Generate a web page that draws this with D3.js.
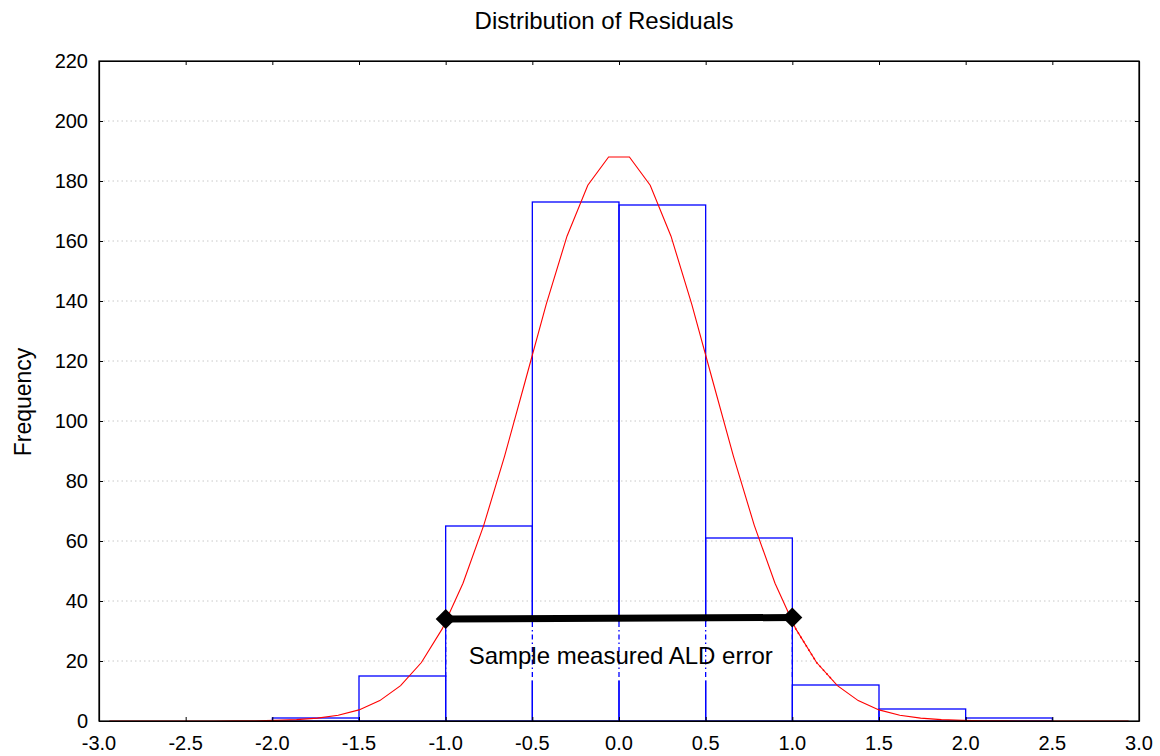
<!DOCTYPE html>
<html>
<head>
<meta charset="utf-8">
<script src="https://cdn.jsdelivr.net/npm/d3@7"></script>
<style>
  body { margin: 0; background: #fff; }
  svg { font-family: "Liberation Sans", Arial, sans-serif; }
</style>
</head>
<body>
<svg id="svg1"></svg>
<script>
var margin = {top: 61, right: 21, bottom: 35, left: 99};
var width = 1160 - margin.left - margin.right;
var height = 756 - margin.top - margin.bottom;

// histogram bins (lower edge) and counts
var binStarts = [-2.0, -1.5, -1.0, -0.5, 0.0, 0.5, 1.0, 1.5, 2.0];
var binCounts = [1, 15, 65, 173, 172, 61, 12, 4, 1];
var binWidth = 0.5;

// fitted normal curve
var curveX = [-2.94, -2.82, -2.70, -2.58, -2.46, -2.34, -2.22, -2.10, -1.98, -1.86, -1.74, -1.62, -1.50,
  -1.38, -1.26, -1.14, -1.02, -0.90, -0.78, -0.66, -0.54, -0.42, -0.30, -0.18, -0.06,
  0.06, 0.18, 0.30, 0.42, 0.54, 0.66, 0.78, 0.90, 1.02, 1.14, 1.26, 1.38, 1.50,
  1.62, 1.74, 1.86, 1.98, 2.10, 2.22, 2.34, 2.46, 2.58, 2.70, 2.82, 2.94];
var curveY = [0, 0, 0, 0, 0, 0.01, 0.03, 0.09, 0.2, 0.45, 0.95, 1.9, 3.7,
  6.8, 11.8, 19.5, 30.7, 45.9, 65.3, 88.3, 113.5, 138.9, 161.6, 178.6, 188,
  188, 178.6, 161.6, 138.9, 113.5, 88.3, 65.3, 45.9, 30.7, 19.5, 11.8, 6.8, 3.7,
  1.9, 0.95, 0.45, 0.2, 0.09, 0.03, 0.01, 0, 0, 0, 0, 0];

// annotation: measured error range
var errX = [-1.0, 1.0];
var errY = [34, 34.5];
var errLabel = "Sample measured ALD error";

var xTicks = [-3.0, -2.5, -2.0, -1.5, -1.0, -0.5, 0.0, 0.5, 1.0, 1.5, 2.0, 2.5, 3.0];
var yTicks = [0, 20, 40, 60, 80, 100, 120, 140, 160, 180, 200, 220];

var root = d3.select('#svg1')
  .attr('width', 1160)
  .attr('height', 756);

root.append('text')
  .attr('x', 604)
  .attr('y', 29)
  .attr('text-anchor', 'middle')
  .style('font-size', '24px')
  .text('Distribution of Residuals');

root.append('text')
  .attr('transform', 'translate(31,402) rotate(-90)')
  .attr('text-anchor', 'middle')
  .style('font-size', '23px')
  .text('Frequency');

var svg = root.append('g')
  .attr('transform', 'translate(' + margin.left + ',' + margin.top + ')');

var x = d3.scaleLinear().domain([-3, 3]).range([0, width]);
var y = d3.scaleLinear().domain([0, 220]).range([height, 0]);

// grid
svg.selectAll('.grid')
  .data(yTicks.filter(function(d) { return d > 0 && d < 220; }))
  .enter().append('line')
  .attr('x1', 0).attr('x2', width)
  .attr('y1', function(d) { return y(d); })
  .attr('y2', function(d) { return y(d); })
  .attr('stroke', '#c8c8c8')
  .attr('stroke-dasharray', '1.5,3');

// histogram
svg.selectAll('.bar')
  .data(binStarts)
  .enter().append('rect')
  .attr('class', 'bar')
  .attr('x', function(d) { return x(d); })
  .attr('y', function(d, i) { return y(binCounts[i]); })
  .attr('width', function(d) { return x(d + binWidth) - x(d); })
  .attr('height', function(d, i) { return height - y(binCounts[i]); })
  .attr('fill', 'none')
  .attr('stroke', '#0000ff')
  .attr('stroke-width', 1.3);

var line = d3.line()
  .x(function(d, i) { return x(curveX[i]); })
  .y(function(d) { return y(d); });

svg.append('path')
  .datum(curveY)
  .attr('d', line)
  .attr('fill', 'none')
  .attr('stroke', '#ff0000')
  .attr('stroke-width', 1.1);

// text box region: lines show through dotted
var boxL = x(-0.99), boxR = x(0.99), boxT = y(33), boxB = y(13.5);
svg.append('rect')
  .attr('x', boxL).attr('y', boxT)
  .attr('width', boxR - boxL).attr('height', boxB - boxT)
  .attr('fill', '#fff');

svg.append('clipPath').attr('id', 'boxclip')
  .append('rect')
  .attr('x', boxL - 6).attr('y', boxT)
  .attr('width', boxR - boxL + 40).attr('height', boxB - boxT);

var inBox = svg.append('g').attr('clip-path', 'url(#boxclip)');
inBox.selectAll('.vdot')
  .data([-1.0, -0.5, 0.0, 0.5, 1.0])
  .enter().append('line')
  .attr('x1', function(d) { return x(d); })
  .attr('x2', function(d) { return x(d); })
  .attr('y1', boxT).attr('y2', boxB)
  .attr('stroke', '#0000ff')
  .attr('stroke-width', 1.3)
  .attr('stroke-dasharray', '5,3,1.5,3');
svg.append('clipPath').attr('id', 'curveclip')
  .append('rect')
  .attr('x', x(0.8)).attr('y', boxT)
  .attr('width', x(1.3) - x(0.8)).attr('height', boxB - boxT);
svg.append('path')
  .datum(curveY)
  .attr('d', line)
  .attr('clip-path', 'url(#curveclip)')
  .attr('fill', 'none')
  .attr('stroke', '#ff0000')
  .attr('stroke-width', 1.6)
  .attr('stroke-dasharray', '1.5,3.5');

svg.append('text')
  .attr('x', x(0.01))
  .attr('y', y(21))
  .attr('text-anchor', 'middle')
  .attr('dominant-baseline', 'middle')
  .style('font-size', '24px')
  .text(errLabel);

// measured error bar with diamonds
svg.append('line')
  .attr('x1', x(errX[0])).attr('x2', x(errX[1]))
  .attr('y1', y(errY[0])).attr('y2', y(errY[1]))
  .attr('stroke', '#000')
  .attr('stroke-width', 7);
svg.selectAll('.diamond')
  .data(errX)
  .enter().append('path')
  .attr('d', 'M0,-10L10,0L0,10L-10,0Z')
  .attr('transform', function(d, i) { return 'translate(' + x(d) + ',' + y(errY[i]) + ')'; })
  .attr('fill', '#000');

// frame and inward ticks
svg.append('rect')
  .attr('width', width).attr('height', height)
  .attr('fill', 'none')
  .attr('stroke', '#000')
  .attr('stroke-width', 1.2);

var fmt = function(d) { return d3.format('.1f')(d).replace('\u2212', '-'); };

svg.append('g')
  .attr('transform', 'translate(0,' + height + ')')
  .call(d3.axisBottom(x).tickValues(xTicks).tickSizeInner(-4).tickSizeOuter(0).tickFormat(''));
svg.append('g')
  .call(d3.axisTop(x).tickValues(xTicks).tickSizeInner(-4).tickSizeOuter(0).tickFormat(''));
svg.append('g')
  .call(d3.axisLeft(y).tickValues(yTicks).tickSizeInner(-4).tickSizeOuter(0).tickFormat(''));
svg.append('g')
  .attr('transform', 'translate(' + width + ',0)')
  .call(d3.axisRight(y).tickValues(yTicks).tickSizeInner(-4).tickSizeOuter(0).tickFormat(''));
svg.selectAll('.domain').attr('stroke', '#000').attr('stroke-width', 1.2);
svg.selectAll('.tick line').attr('stroke', '#000');

// tick labels as plain text so the size is set directly
svg.selectAll('.xlab')
  .data(xTicks)
  .enter().append('text')
  .attr('class', 'xlab')
  .attr('x', function(d) { return x(d); })
  .attr('y', height + 29)
  .attr('text-anchor', 'middle')
  .style('font-size', '20px')
  .text(fmt);
svg.selectAll('.ylab')
  .data(yTicks)
  .enter().append('text')
  .attr('class', 'ylab')
  .attr('x', -11)
  .attr('y', function(d) { return y(d) + 7; })
  .attr('text-anchor', 'end')
  .style('font-size', '20px')
  .text(function(d) { return d; });
</script>
</body>
</html>
